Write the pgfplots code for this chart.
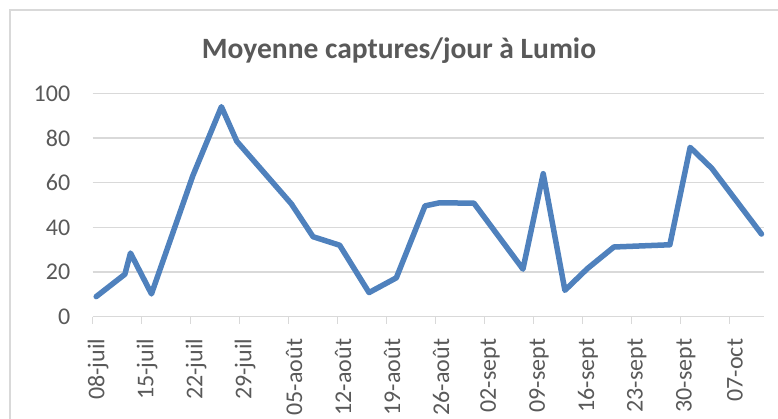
\documentclass[border=0pt]{standalone}
\usepackage{pgfplots}
\pgfplotsset{compat=1.18}
\usepackage{fontspec}
\setmainfont{Carlito}
\definecolor{txt}{HTML}{595959}
\definecolor{gridc}{HTML}{D9D9D9}
\definecolor{serie}{HTML}{4F81BD}
\begin{document}
\begin{tikzpicture}[x=1pt,y=1pt]
\path[use as bounding box] (0,0) rectangle (778,418);
\draw[gridc, line width=1.5pt] (10,-20) -- (10,408) -- (800,408);
\node[font=\fontsize{29.5}{34}\selectfont\bfseries, text=txt] at (399,367) {Moyenne captures/jour à Lumio};
\begin{axis}[
  at={(92.7pt,101.3pt)}, anchor=south west,
  scale only axis, width=671.6pt, height=223.4pt,
  xmin=0, xmax=96, ymin=0, ymax=100,
  axis x line*=bottom, axis y line*=left,
  x axis line style={gridc, line width=1.5pt},
  y axis line style={draw=none},
  ytick={0,20,...,100},
  ytick style={draw=none},
  ymajorgrids, grid style={gridc, line width=1.5pt},
  xtick={0,7,...,91},
  xticklabels={08-juil,15-juil,22-juil,29-juil,05-août,12-août,19-août,26-août,02-sept,09-sept,16-sept,23-sept,30-sept,07-oct},
  xtick style={gridc, line width=1.5pt},
  tick align=outside, major tick length=7pt,
  xticklabel style={inner sep=0pt, xshift=5.5pt, yshift=-15pt, rotate=90, anchor=east, font=\fontsize{24}{28}\selectfont, text=txt},
  yticklabel style={font=\fontsize{24}{28}\selectfont, text=txt, xshift=-12pt},
  /pgf/number format/assume math mode=true,
  clip=false,
]
\addplot[serie, line width=5.5pt, line join=round, line cap=round] coordinates {
(0.5,9) (4.6,19) (5.4,28.5) (8.4,10.2) (14.3,63) (18.4,94) (20.6,78.5)
(28.4,50.5) (31.5,35.8) (35.3,32) (39.5,10.8) (43.4,17.4) (47.5,49.6)
(49.6,51) (54.5,50.8) (61.5,21.3) (64.4,64) (67.5,11.8) (70.7,21.5)
(74.5,31.2) (82.5,32.2) (85.4,75.8) (88.5,66.4) (95.6,37)
};
\end{axis}
\end{tikzpicture}
\end{document}
